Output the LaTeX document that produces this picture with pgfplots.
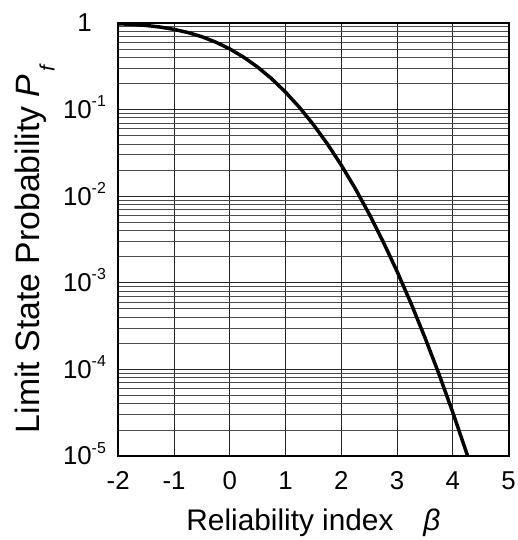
\documentclass[border=0pt]{standalone}
\usepackage{pgfplots}
\pgfplotsset{compat=1.18}
\usepackage{fontspec}
\setmainfont{Liberation Sans}
\newcommand{\tickfont}{\fontsize{26}{26}\selectfont}
% tick label of the form 10^-n, set in the text font
\newcommand{\tenpow}[1]{10\raisebox{12pt}{\fontsize{16}{16}\selectfont #1}}
\begin{document}
\begin{tikzpicture}
\begin{axis}[
  scale only axis, width=393pt, height=436pt,
  ymode=log, xmin=-2, xmax=5, ymin=1e-5, ymax=1,
  xtick={-2,-1,0,1,2,3,4,5},
  xticklabels={-2,-1,0,1,2,3,4,5},
  ytick={1e-5,1e-4,1e-3,1e-2,1e-1,1},
  yticklabels={\tenpow{-5},\tenpow{-4},\tenpow{-3},\tenpow{-2},\tenpow{-1},1},
  tick label style={font=\tickfont, inner sep=0pt},
  xticklabel style={anchor=base, yshift=-34pt},
  yticklabel style={anchor=base, xshift=-34pt, yshift=-9pt},
  major tick length=0pt, minor tick length=0pt,
  grid=both, minor x tick num=0,
  major grid style={black!85, line width=0.8pt},
  minor grid style={black!70, line width=0.8pt},
  axis line style={line width=1.8pt},
  xlabel={Reliability index\hspace{1.0em}{\itshape β}},
  ylabel={Limit State Probability {\itshape P}\hspace{3pt}\raisebox{-15pt}{\fontsize{21}{21}\selectfont\itshape f}},
  xlabel style={font=\fontsize{30}{30}\selectfont, at={(axis description cs:0.5,0)}, anchor=base, yshift=-75pt},
  ylabel style={font=\fontsize{34}{34}\selectfont, at={(axis description cs:0,0.477)}, anchor=base, yshift=79pt},
]
\addplot[black, line width=3.5pt] coordinates {
(-2,0.97725) (-1.75,0.95994) (-1.5,0.93319) (-1.25,0.89435) (-1,0.84134)
(-0.75,0.77337) (-0.5,0.69146) (-0.25,0.59871) (0,0.5) (0.25,0.40129)
(0.5,0.30854) (0.75,0.22663) (1,0.15866) (1.25,0.10565) (1.5,0.066807)
(1.75,0.040059) (2,0.02275) (2.25,0.012224) (2.5,0.0062097) (2.75,0.0029798)
(3,0.0013499) (3.25,0.00057703) (3.5,0.00023263) (3.75,8.8417e-5)
(4,3.1671e-5) (4.25,1.0689e-5) (4.265,1.0e-5)
};
\end{axis}
\path (current axis.south west) ++(-119pt,-81pt);
\path (current axis.north east) ++(9pt,23pt);
\end{tikzpicture}
\end{document}
